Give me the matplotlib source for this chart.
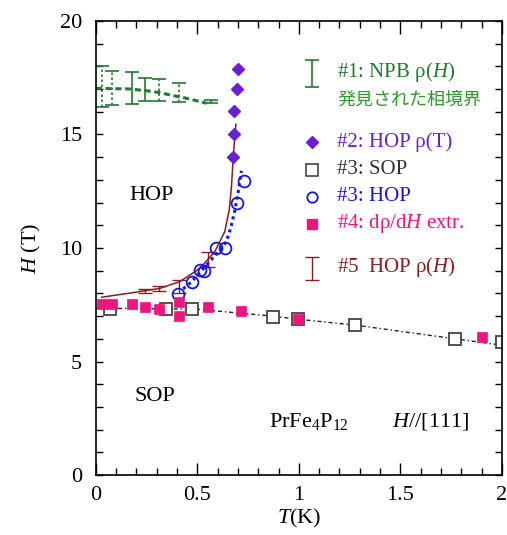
import matplotlib as mpl
mpl.use('Agg')
import matplotlib.pyplot as plt
from matplotlib.ticker import MultipleLocator

plt.rcParams['font.family'] = ['Liberation Serif', 'Noto Sans CJK JP']
plt.rcParams['mathtext.fontset'] = 'custom'
plt.rcParams['mathtext.rm'] = 'Liberation Serif'
plt.rcParams['mathtext.it'] = 'Liberation Serif:italic'

# colours
c_green = '#1f7a2e'
c_green2 = '#2a9a2a'
c_purple = '#6a1fd0'
c_blue = '#1414e6'
c_pink = '#f0147e'
c_brown = '#8b1c1c'
c_gray = '#444444'

# #1 NPB rho(H) : boundary line and error bars
npb_T = [0.0, 0.17, 0.28, 0.315, 0.365, 0.447, 0.512, 0.545]
npb_H = [17.03, 17.0, 16.89, 16.84, 16.74, 16.59, 16.45, 16.37]
npb_solid_T = [0.18, 0.24]
npb_solid_H = [17.05, 16.96]
npb_solid_err = [0.72, 0.51]
npb_dot_T = [0.03, 0.08, 0.31, 0.41, 0.565]
npb_dot_H = [17.1, 17.05, 16.94, 16.84, 16.44]
npb_dot_err = [0.9, 0.75, 0.49, 0.41, 0.07]

# #2 HOP rho(T)
hop2_T = [0.676, 0.68, 0.681, 0.693, 0.70]
hop2_H = [14.02, 15.02, 16.03, 17.0, 17.88]

# #3 SOP
sop_T = [0.072, 0.345, 0.476, 0.873, 0.997, 1.276, 1.768, 1.998]
sop_H = [7.3, 7.3, 7.3, 6.98, 6.87, 6.61, 5.98, 5.87]
sop_line_T = [0.0, 0.5, 0.6, 0.87, 1.0, 1.28, 1.77, 2.0]
sop_line_H = [7.35, 7.3, 7.22, 7.0, 6.86, 6.6, 6.0, 5.72]

# #3 HOP
hop3_T = [0.405, 0.476, 0.512, 0.534, 0.594, 0.636, 0.693, 0.729]
hop3_H = [7.97, 8.5, 9.03, 8.99, 9.99, 10.0, 11.97, 12.96]
hop3_line_T = [0.43, 0.47, 0.52, 0.57, 0.62, 0.643, 0.665, 0.685, 0.70, 0.717]
hop3_line_H = [8.2, 8.5, 9.0, 9.5, 10.0, 10.28, 10.9, 11.67, 12.4, 13.4]

# #4 drho/dH extr.
ext_T = [0.028, 0.082, 0.18, 0.241, 0.31, 0.41, 0.41, 0.553, 0.713, 0.997, 1.9]
ext_H = [7.52, 7.52, 7.52, 7.39, 7.3, 7.63, 7.0, 7.42, 7.22, 6.87, 6.09]

# #5 HOP rho(H)
hop5_T = [0.028, 0.18, 0.315, 0.414, 0.512, 0.586, 0.635, 0.657, 0.668, 0.676, 0.68, 0.69]
hop5_H = [7.83, 8.03, 8.22, 8.52, 9.1, 9.84, 10.72, 11.67, 12.7, 13.88, 14.4, 15.45]
hop5_err_T = [0.241, 0.312, 0.41, 0.553]
hop5_err_H = [8.1, 8.22, 8.3, 9.5]
hop5_err = [0.08, 0.1, 0.3, 0.34]

fig = plt.figure(figsize=(5.07, 5.35), dpi=100)
ax = fig.add_axes([0.189, 0.112, 0.801, 0.849])

# #1
ax.plot(npb_T, npb_H, color=c_green, lw=2.2, ls=(0, (2, 1.2)))
ax.errorbar(npb_solid_T, npb_solid_H, yerr=npb_solid_err, fmt='none',
            ecolor=c_green, elinewidth=1.2, capsize=5, capthick=1.2)
eb = ax.errorbar(npb_dot_T, npb_dot_H, yerr=npb_dot_err, fmt='none',
                 ecolor=c_green, elinewidth=1.2, capsize=5, capthick=1.2)
for lc in eb[2]:
    lc.set_linestyle((0, (1.5, 1.5)))

# #3 SOP line
ax.plot(sop_line_T, sop_line_H, color='#222222', lw=1.0, ls=(0, (3, 2, 1, 2)))

# #5
ax.plot(hop5_T, hop5_H, color=c_brown, lw=1.1)
ax.errorbar(hop5_err_T, hop5_err_H, yerr=hop5_err, fmt='none',
            ecolor=c_brown, elinewidth=1.0, capsize=5, capthick=1.0)

# #3 HOP
ax.plot(hop3_line_T, hop3_line_H, color=c_blue, lw=2.2, ls=(0, (1, 1.2)))
ax.plot(hop3_T, hop3_H, 'o', ms=8.5, mfc='none', mec=c_blue, mew=1.3)

# #3 SOP squares
ax.plot(sop_T, sop_H, 's', ms=9, mfc='white', mec=c_gray, mew=1.3)

# #4
ax.plot(ext_T, ext_H, 's', ms=7.5, mfc=c_pink, mec=c_pink, mew=0.5)

# #2
ax.plot(hop2_T, hop2_H, 'D', ms=6.5, mfc=c_purple, mec=c_purple)

ax.set_xlim(0, 2)
ax.set_ylim(0, 20)
ax.xaxis.set_major_locator(MultipleLocator(0.5))
ax.xaxis.set_minor_locator(MultipleLocator(0.1))
ax.yaxis.set_major_locator(MultipleLocator(5))
ax.yaxis.set_minor_locator(MultipleLocator(1))
ax.set_xticks([0, 0.5, 1, 1.5, 2], ['0', '0.5', '1', '1.5', '2'])
ax.tick_params(which='both', direction='in', top=True, right=True,
               labelsize=16, width=1.0, colors='black')
ax.tick_params(axis='x', which='major', length=9, pad=8)
ax.tick_params(axis='x', which='minor', length=5)
ax.tick_params(axis='y', which='both', length=5, pad=10)
for s in ax.spines.values():
    s.set_linewidth(1.2)

ax.set_xlabel('$T$(K)', fontsize=16, labelpad=1)
ax.set_ylabel('$H$ (T)', fontsize=16, labelpad=12)

ax.text(0.276, 12.3, 'HOP', fontsize=16, ha='center', va='center')
ax.text(0.29, 3.44, 'SOP', fontsize=16, ha='center', va='center')
ax.text(0.855, 2.35, 'PrFe$_4$P$_{12}$', fontsize=16, ha='left', va='center')
ax.text(1.46, 2.35, '$H$//[111]', fontsize=16, ha='left', va='center')

# legend
tr = ax.transAxes
mx = 0.532
tx = 0.594
ax.errorbar([mx], [0.884], yerr=[0.029], fmt='none', ecolor=c_green,
            elinewidth=1.2, capsize=5, capthick=1.2, transform=tr, clip_on=False)
ax.text(tx, 0.887, '#1: NPB ρ($H$)', color=c_green, fontsize=15,
        transform=tr, va='center')
ax.text(tx, 0.826, '発見された相境界', color=c_green2, fontsize=13,
        transform=tr, va='center')
ax.plot([mx], [0.734], 'D', ms=6.5, color=c_purple, transform=tr)
ax.text(tx, 0.734, '#2: HOP ρ(T)', color=c_purple, fontsize=15,
        transform=tr, va='center')
ax.plot([mx], [0.672], 's', ms=8, mfc='white', mec=c_gray, mew=1.2, transform=tr)
ax.text(tx, 0.672, '#3: SOP', color='#333333', fontsize=15,
        transform=tr, va='center')
ax.plot([mx], [0.613], 'o', ms=7.5, mfc='none', mec=c_blue, mew=1.3, transform=tr)
ax.text(tx, 0.613, '#3: HOP', color=c_blue, fontsize=15,
        transform=tr, va='center')
ax.plot([mx], [0.553], 's', ms=6.5, color=c_pink, transform=tr)
ax.text(tx, 0.553, '#4: dρ/d$H$ extr.', color=c_pink, fontsize=15,
        transform=tr, va='center')
ax.errorbar([mx], [0.455], yerr=[0.026], fmt='none', ecolor=c_brown,
            elinewidth=1.0, capsize=5, capthick=1.0, transform=tr, clip_on=False)
ax.text(tx, 0.459, '#5  HOP ρ($H$)', color=c_brown, fontsize=15,
        transform=tr, va='center')

fig.savefig('out.png', dpi=100)
